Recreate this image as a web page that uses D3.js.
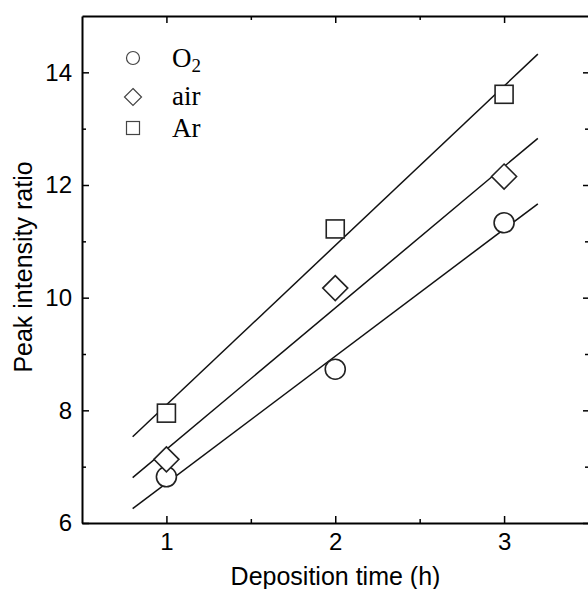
<!DOCTYPE html>
<html>
<head>
<meta charset="utf-8">
<script src="https://cdn.jsdelivr.net/npm/d3@7"></script>
<style>
  html, body { margin: 0; padding: 0; background: #fff; }
  svg { display: block; }
</style>
</head>
<body>
<svg id="chart" width="588" height="589"></svg>
<script>
// ---- data ----
const times = [1, 2, 3];
const o2Values = [6.82, 8.73, 11.33];
const airValues = [7.13, 10.17, 12.15];
const arValues = [7.95, 11.22, 13.61];
const seriesNames = ["O2", "air", "Ar"];
const xTicks = [1, 2, 3];
const xMinorTicks = [1.5, 2.5];
const yTicks = [6, 8, 10, 12, 14];
const yMinorTicks = [7, 9, 11, 13];
const fitRange = [0.8, 3.2];

(function () {
const svg = d3.select("#chart");
const mLeft = 82, mRight = 589, mTop = 16, mBottom = 523;

const x = d3.scaleLinear().domain([0.5, 3.5]).range([mLeft, mRight - 0.5]);
const y = d3.scaleLinear().domain([6, 15]).range([mBottom, mTop]);

const sans = "'Liberation Sans', Arial, sans-serif";
const serif = "'Liberation Serif', 'Times New Roman', serif";

// ---- fit lines (least squares from data) ----
function fit(xs, ys) {
  const n = xs.length;
  const mx = d3.mean(xs), my = d3.mean(ys);
  let sxy = 0, sxx = 0;
  for (let i = 0; i < n; i++) { sxy += (xs[i]-mx)*(ys[i]-my); sxx += (xs[i]-mx)**2; }
  const b = sxy / sxx, a = my - b*mx;
  return fitRange.map(t => [t, a + b*t]);
}
const series = [
  {name: "O2", values: o2Values, shape: "circle"},
  {name: "air", values: airValues, shape: "diamond"},
  {name: "Ar", values: arValues, shape: "square"}
];
const line = d3.line().x(d => x(d[0])).y(d => y(d[1]));
svg.append("g").selectAll("path").data(series).join("path")
  .attr("d", s => line(fit(times, s.values)))
  .attr("fill", "none").attr("stroke", "#111").attr("stroke-width", 1.5);

// ---- axes ----
function styleAxis(g, showLabels) {
  g.select(".domain").attr("stroke", "#000").attr("stroke-width", 2);
  g.selectAll(".tick line").attr("stroke", "#000").attr("stroke-width", 1.5);
  g.selectAll(".tick text").attr("font-family", sans).attr("font-size", 24).attr("fill", "#000");
  if (!showLabels) g.selectAll(".tick text").remove();
}
// bottom
svg.append("g").attr("transform", `translate(0,${mBottom})`)
  .call(d3.axisBottom(x).tickValues(xTicks).tickFormat(d3.format("d")).tickSizeInner(-7).tickSizeOuter(0).tickPadding(10))
  .call(g => styleAxis(g, true));
svg.append("g").attr("transform", `translate(0,${mBottom})`)
  .call(d3.axisBottom(x).tickValues(xMinorTicks).tickSizeInner(-4).tickSizeOuter(0))
  .call(g => { styleAxis(g, false); g.select(".domain").remove(); });
// top
svg.append("g").attr("transform", `translate(0,${mTop})`)
  .call(d3.axisTop(x).tickValues(xTicks).tickSizeInner(-7).tickSizeOuter(0))
  .call(g => styleAxis(g, false));
svg.append("g").attr("transform", `translate(0,${mTop})`)
  .call(d3.axisTop(x).tickValues(xMinorTicks).tickSizeInner(-4).tickSizeOuter(0))
  .call(g => { styleAxis(g, false); g.select(".domain").remove(); });
// left
svg.append("g").attr("transform", `translate(${mLeft},0)`)
  .call(d3.axisLeft(y).tickValues(yTicks).tickFormat(d3.format("d")).tickSizeInner(-7).tickSizeOuter(0).tickPadding(10))
  .call(g => styleAxis(g, true));
svg.append("g").attr("transform", `translate(${mLeft},0)`)
  .call(d3.axisLeft(y).tickValues(yMinorTicks).tickSizeInner(-4).tickSizeOuter(0))
  .call(g => { styleAxis(g, false); g.select(".domain").remove(); });
// right
svg.append("g").attr("transform", `translate(${mRight},0)`)
  .call(d3.axisRight(y).tickValues(yTicks).tickSizeInner(-6).tickSizeOuter(0))
  .call(g => styleAxis(g, false));
svg.append("g").attr("transform", `translate(${mRight},0)`)
  .call(d3.axisRight(y).tickValues(yMinorTicks).tickSizeInner(-4).tickSizeOuter(0))
  .call(g => { styleAxis(g, false); g.select(".domain").remove(); });

// ---- markers ----
function drawMarker(g, shape, cx, cy, s, sw, color) {
  if (shape === "circle") {
    g.append("circle").attr("cx", cx).attr("cy", cy).attr("r", s)
      .attr("fill", "#fff").attr("stroke", color).attr("stroke-width", sw);
  } else if (shape === "diamond") {
    g.append("path").attr("d", `M${cx},${cy-s}L${cx+s},${cy}L${cx},${cy+s}L${cx-s},${cy}Z`)
      .attr("fill", "#fff").attr("stroke", color).attr("stroke-width", sw);
  } else {
    g.append("rect").attr("x", cx-s).attr("y", cy-s).attr("width", 2*s).attr("height", 2*s)
      .attr("fill", "#fff").attr("stroke", color).attr("stroke-width", sw);
  }
}
const markerSize = {circle: 10, diamond: 12.5, square: 9};
const mg = svg.append("g");
series.forEach(s => {
  s.values.forEach((v, i) => drawMarker(mg, s.shape, x(times[i]), y(v), markerSize[s.shape], 1.6, "#222"));
});

// ---- legend ----
const legendSize = {circle: 6.5, diamond: 8.5, square: 6.5};
const legendY = [58, 97, 128];
const lg = svg.append("g");
series.forEach((s, i) => {
  drawMarker(lg, s.shape, 133, legendY[i], legendSize[s.shape], 1.2, "#444");
});
const t0 = lg.append("text").attr("x", 172).attr("y", 67).attr("font-family", serif).attr("font-size", 27).attr("fill", "#000");
t0.append("tspan").text("O");
t0.append("tspan").attr("font-size", 19).attr("dy", 5).text("2");
lg.append("text").attr("x", 172).attr("y", 105).attr("font-family", serif).attr("font-size", 27).attr("fill", "#000").text(seriesNames[1]);
lg.append("text").attr("x", 172).attr("y", 137).attr("font-family", serif).attr("font-size", 27).attr("fill", "#000").text(seriesNames[2]);

// ---- axis titles ----
svg.append("text").attr("x", (mLeft + mRight) / 2).attr("y", 585)
  .attr("text-anchor", "middle").attr("font-family", sans).attr("font-size", 25).attr("fill", "#000")
  .text("Deposition time (h)");
svg.append("text").attr("transform", `translate(32,267) rotate(-90)`)
  .attr("text-anchor", "middle").attr("font-family", sans).attr("font-size", 25).attr("fill", "#000")
  .text("Peak intensity ratio");
})();
</script>
</body>
</html>
